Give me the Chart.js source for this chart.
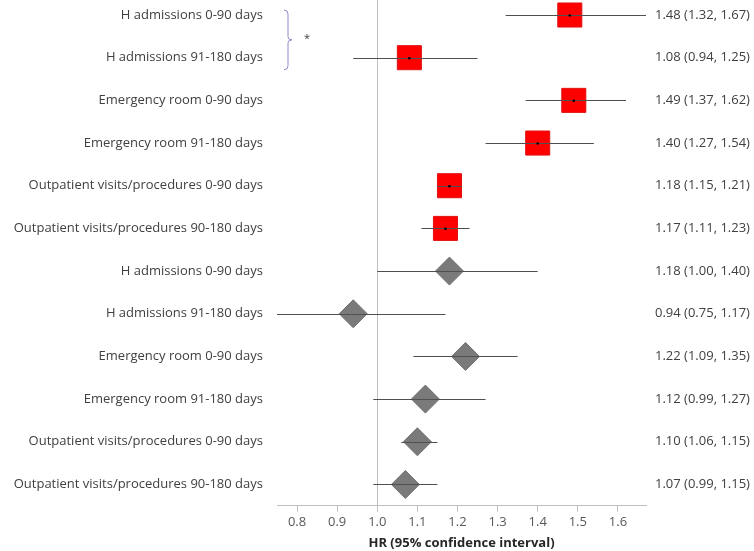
<!DOCTYPE html>
<html>
<head>
<meta charset="utf-8">
<script src="https://cdn.jsdelivr.net/npm/chart.js@4"></script>
<style>
  body { margin: 0; background: #fff; }
  #wrap { width: 754px; height: 551px; }
</style>
</head>
<body>
<div id="wrap"><canvas id="forest"></canvas></div>
<script>
// filas del gráfico (de arriba a abajo)
const rowLabels = [
  'H admissions 0-90 days',
  'H admissions 91-180 days',
  'Emergency room 0-90 days',
  'Emergency room 91-180 days',
  'Outpatient visits/procedures 0-90 days',
  'Outpatient visits/procedures 90-180 days',
  'H admissions 0-90 days',
  'H admissions 91-180 days',
  'Emergency room 0-90 days',
  'Emergency room 91-180 days',
  'Outpatient visits/procedures 0-90 days',
  'Outpatient visits/procedures 90-180 days'
];
const hr    = [1.48, 1.08, 1.49, 1.40, 1.18, 1.17, 1.18, 0.94, 1.22, 1.12, 1.10, 1.07];
const ciLow = [1.32, 0.94, 1.37, 1.27, 1.15, 1.11, 1.00, 0.75, 1.09, 0.99, 1.06, 0.99];
const ciHigh= [1.67, 1.25, 1.62, 1.54, 1.21, 1.23, 1.40, 1.17, 1.35, 1.27, 1.15, 1.15];
const squareRows = [0, 1, 2, 3, 4, 5];      // cuadrados rojos
const diamondRows = [6, 7, 8, 9, 10, 11];   // rombos grises
const xTicks = [0.8, 0.9, 1.0, 1.1, 1.2, 1.3, 1.4, 1.5, 1.6];

const fmt = v => v.toFixed(2);
const ciText = rowLabels.map((_, i) => `${fmt(hr[i])} (${fmt(ciLow[i])}, ${fmt(ciHigh[i])})`);
const rowIdx = rowLabels.map((_, i) => i);

const textColor = '#404040';
const fontFam = '"Open Sans", sans-serif';

// líneas de IC, línea de referencia en 1.0 y la llave con asterisco
const forestPlugin = {
  id: 'forest',
  beforeDatasetsDraw(chart) {
    const { ctx, chartArea, scales: { x } } = chart;
    const px = x.getPixelForValue(1.0);
    ctx.save();
    ctx.strokeStyle = '#bfbfbf';
    ctx.lineWidth = 1;
    ctx.beginPath();
    ctx.moveTo(Math.round(px) + 0.5, 0);
    ctx.lineTo(Math.round(px) + 0.5, chartArea.bottom);
    ctx.stroke();
    ctx.restore();
  },
  afterDatasetsDraw(chart) {
    const { ctx, chartArea, scales: { x, y } } = chart;
    ctx.save();
    ctx.strokeStyle = '#505050';
    ctx.lineWidth = 1;
    rowIdx.forEach(i => {
      const py = Math.round(y.getPixelForValue(i)) + 0.5;
      ctx.beginPath();
      ctx.moveTo(x.getPixelForValue(ciLow[i]), py);
      ctx.lineTo(x.getPixelForValue(ciHigh[i]), py);
      ctx.stroke();
    });
    // puntitos negros en el centro de los cuadrados
    ctx.fillStyle = '#000';
    squareRows.forEach(i => {
      ctx.beginPath();
      ctx.arc(x.getPixelForValue(hr[i]), y.getPixelForValue(i) + 0.5, 1.3, 0, Math.PI * 2);
      ctx.fill();
    });
    // llave "}" entre las dos primeras filas
    const y0 = y.getPixelForValue(0) - 5;
    const y1 = y.getPixelForValue(1) + 12;
    const ym = (y0 + y1) / 2;
    const bx = chartArea.left + 11;
    ctx.strokeStyle = '#8c8cc8';
    ctx.beginPath();
    ctx.moveTo(bx - 4, y0);
    ctx.quadraticCurveTo(bx, y0, bx, y0 + 4);
    ctx.lineTo(bx, ym - 3);
    ctx.quadraticCurveTo(bx, ym, bx + 4, ym);
    ctx.quadraticCurveTo(bx, ym, bx, ym + 3);
    ctx.lineTo(bx, y1 - 4);
    ctx.quadraticCurveTo(bx, y1, bx - 4, y1);
    ctx.stroke();
    ctx.fillStyle = textColor;
    ctx.font = '11px ' + fontFam;
    ctx.textAlign = 'center';
    ctx.textBaseline = 'middle';
    ctx.fillText('*', bx + 19, ym - 1);
    ctx.restore();
  }
};

new Chart(document.getElementById('forest'), {
  type: 'scatter',
  data: {
    datasets: [
      {
        data: squareRows.map(i => ({ x: hr[i], y: i })),
        pointStyle: 'rect',
        pointRadius: 17,
        pointHoverRadius: 17,
        backgroundColor: '#ff0000',
        borderColor: '#e01010',
        borderWidth: 1,
        clip: false
      },
      {
        data: diamondRows.map(i => ({ x: hr[i], y: i })),
        pointStyle: 'rectRot',
        pointRadius: 14,
        pointHoverRadius: 14,
        backgroundColor: '#7a7a7a',
        borderColor: '#707070',
        borderWidth: 1,
        clip: false
      }
    ]
  },
  options: {
    responsive: true,
    maintainAspectRatio: false,
    animation: false,
    layout: { padding: { top: 0, bottom: 0, left: 0, right: 0 } },
    plugins: { legend: { display: false }, tooltip: { enabled: false } },
    scales: {
      x: {
        type: 'linear',
        min: 0.75,
        max: 1.67,
        afterBuildTicks: s => { s.ticks = xTicks.map(v => ({ value: v })); },
        border: { color: '#bfbfbf' },
        grid: { drawOnChartArea: false, tickLength: 6, color: '#bfbfbf' },
        ticks: {
          color: '#595959',
          font: { family: fontFam, size: 13 },
          padding: 3,
          callback: v => v.toFixed(1)
        },
        title: {
          display: true,
          text: 'HR (95% confidence interval)',
          color: '#262626',
          font: { family: fontFam, size: 13, weight: 'bold' },
          padding: { top: 2, bottom: 0 }
        }
      },
      y: {
        type: 'linear',
        position: 'left',
        reverse: true,
        min: 0.07,
        max: 11.5,
        afterBuildTicks: s => { s.ticks = rowIdx.map(v => ({ value: v })); },
        afterFit: s => { s.width = 277; },
        border: { display: false },
        grid: { display: false, drawTicks: true, tickLength: 14 },
        ticks: {
          color: textColor,
          font: { family: fontFam, size: 13 },
          padding: 0,
          callback: v => rowLabels[v]
        }
      },
      y2: {
        type: 'linear',
        position: 'right',
        reverse: true,
        min: 0.07,
        max: 11.5,
        afterBuildTicks: s => { s.ticks = rowIdx.map(v => ({ value: v })); },
        afterFit: s => { s.width = 108; },
        border: { display: false },
        grid: { display: false, drawTicks: true, tickLength: 9 },
        ticks: {
          color: textColor,
          font: { family: fontFam, size: 13 },
          padding: 0,
          callback: v => ciText[v]
        }
      }
    }
  },
  plugins: [forestPlugin]
});
</script>
</body>
</html>
